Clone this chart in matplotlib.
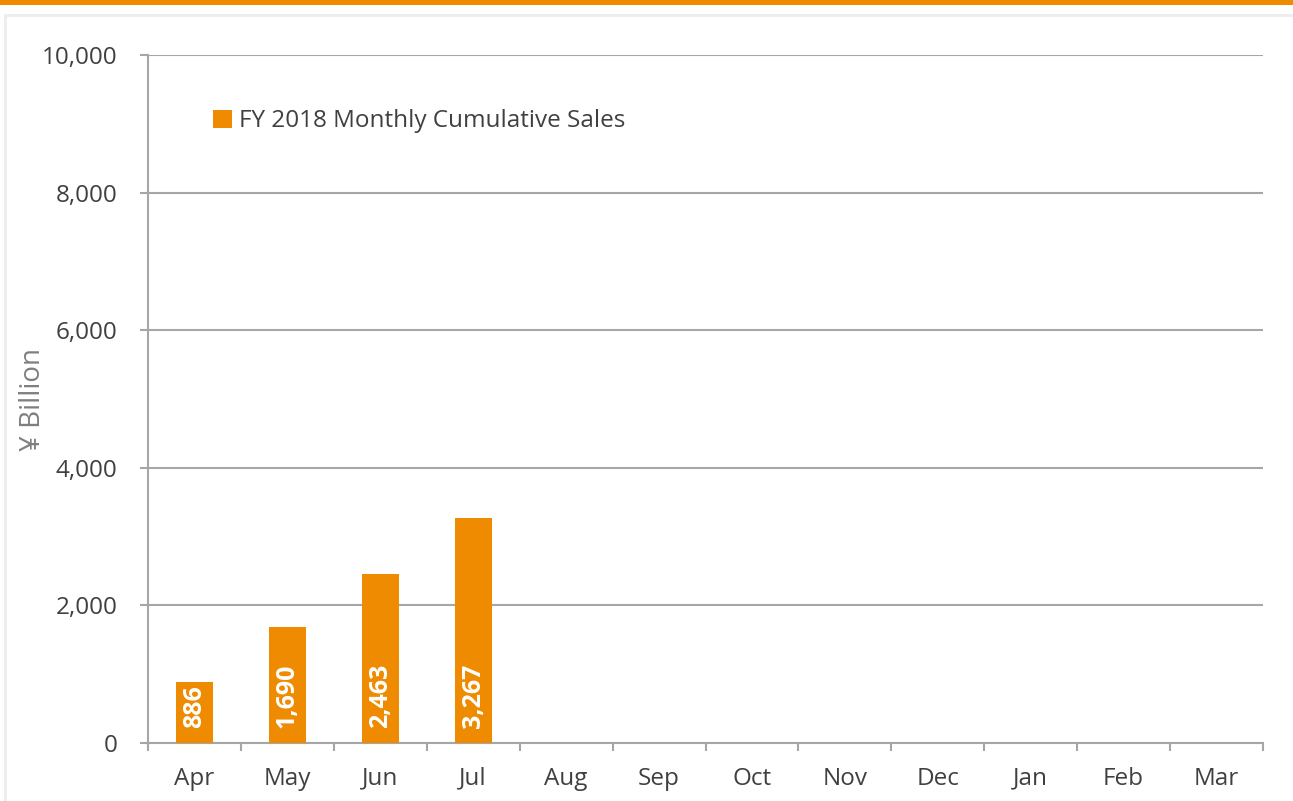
import matplotlib
matplotlib.use("Agg")
import matplotlib.pyplot as plt
from matplotlib.patches import Rectangle
import numpy as np

months = ["Apr", "May", "Jun", "Jul", "Aug", "Sep", "Oct", "Nov", "Dec", "Jan", "Feb", "Mar"]
sales = [886, 1690, 2463, 3267]
bar_labels = ["886", "1,690", "2,463", "3,267"]
yticks = [0, 2000, 4000, 6000, 8000, 10000]
ytick_labels = ["0", "2,000", "4,000", "6,000", "8,000", "10,000"]
legend_label = "FY 2018 Monthly Cumulative Sales"
ylabel = "¥ Billion"

ORANGE = "#EE8B00"
GRID = "#A6A6A6"
TXT = "#404040"

plt.rcParams['font.family'] = ['Open Sans', 'DejaVu Sans']

W, H = 1293, 801
fig = plt.figure(figsize=(W / 100, H / 100), dpi=100)

# top orange band and light frame
fig.patches.append(Rectangle((0, 1 - 5 / H), 1, 5 / H, transform=fig.transFigure,
                             facecolor=ORANGE, edgecolor="none", zorder=-2))
fig.patches.append(Rectangle((5 / W, -0.05), 1.2, 1 - 15 / H + 0.05, transform=fig.transFigure,
                             facecolor="white", edgecolor="#EDEDED", linewidth=2, zorder=-2))

ax = fig.add_axes([148 / W, 1 - 743 / H, (1263 - 148) / W, (743 - 55) / H])
ax.set_facecolor("none")
x = np.arange(len(sales))
bars = ax.bar(x, sales, width=0.4, color=ORANGE, label=legend_label, zorder=3)

for xi, lab in zip(x, bar_labels):
    ax.annotate(lab, (xi, 0), xytext=(0, 15), textcoords="offset pixels",
                rotation=90, ha="center", va="bottom", color="white",
                fontsize=18, fontweight="bold", zorder=4)

ax.set_xlim(-0.5, len(months) - 0.5)
ax.set_ylim(0, 10000)
ax.set_xticks(np.arange(len(months)))
ax.set_xticklabels(months, fontsize=17.5, color=TXT)
ax.set_xticks(np.arange(len(months) + 1) - 0.5, minor=True)
ax.tick_params(axis="x", which="major", length=0, pad=17)
ax.tick_params(axis="x", which="minor", length=6, width=1.5, color=GRID, direction="out")
ax.set_yticks(yticks)
ax.set_yticklabels(ytick_labels, fontsize=17.5, color=TXT)
ax.tick_params(axis="y", length=6, width=1.5, color=GRID, pad=16)

ax.yaxis.grid(True, color=GRID, linewidth=1.5, zorder=1)
ax.set_axisbelow(True)
for s in ["top", "right"]:
    ax.spines[s].set_visible(False)
for s in ["left", "bottom"]:
    ax.spines[s].set_color(GRID)
    ax.spines[s].set_linewidth(1.5)

ax.set_ylabel(ylabel, fontsize=20, color="#7F7F7F", labelpad=-4)

leg = ax.legend(loc="upper left", bbox_to_anchor=(0.05, 0.935), frameon=False,
                fontsize=17.5, handlelength=0.75, handleheight=0.75, handletextpad=0.3,
                borderaxespad=0)
for t in leg.get_texts():
    t.set_color(TXT)

fig.savefig("out.png", dpi=100)
